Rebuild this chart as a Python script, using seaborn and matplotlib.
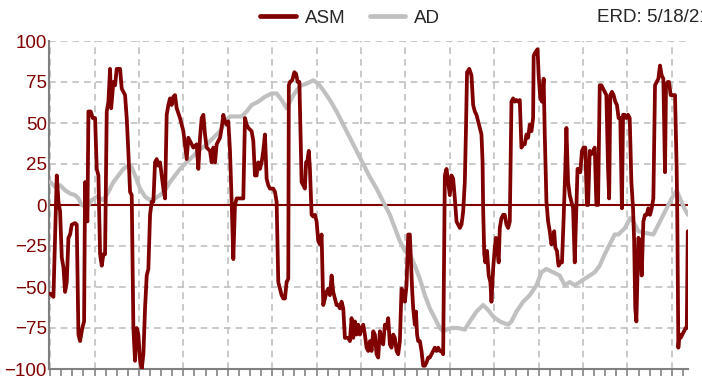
import numpy as np
import pandas as pd
import matplotlib
matplotlib.use("Agg")
import matplotlib.pyplot as plt
import seaborn as sns
from matplotlib.lines import Line2D
from matplotlib.ticker import MultipleLocator, NullFormatter

# trading-day index (ticks every 10, grid every 40) and readings
asm_t = [0, 3, 6, 7.5, 9, 10.5, 12, 13.5, 15, 16.5, 18, 19.5, 22.5, 24, 25.5, 27, 29, 30.6,
         31.5, 32, 33.6, 34.5, 36.6, 38.4, 40.5, 42, 43.5, 45, 46.5, 48, 49.5, 51, 52.5, 54,
         55, 57, 58.5, 60, 63, 64.5, 67.5, 69, 70.5, 72, 73.5, 75, 76.5, 78, 79.5, 81, 82.5,
         84, 85.5, 87, 88.5, 90, 91.5, 93, 94.5, 96, 97.5, 99, 100.5, 102, 103.5, 105, 106.5,
         108, 109.5, 111, 112.5, 114, 117, 120, 123, 124.5, 126, 129, 132, 133.5, 135, 136.5,
         138, 139.5, 141, 144, 145.5, 147, 148.5, 150, 153, 154.5, 156, 157.5, 159, 160.5,
         162, 163.5, 165, 166.5, 168, 174, 175.5, 177, 178.5, 181.5, 183, 184.5, 186, 187.5,
         189, 190.5, 192, 193.5, 195, 196.5, 198, 201, 202.5, 204, 205.5, 207, 208.5, 210,
         211.5, 213, 214.5, 215, 216, 218, 220, 221.5, 223, 224.5, 226.5, 228, 229.5, 230.5,
         231.5, 233, 234, 235.5, 237, 238.5, 240, 241.5, 243, 244.5, 246, 247.5, 249, 250.5,
         252, 253.5, 255, 256.5, 258, 259.5, 261, 262.5, 264, 265.5, 267, 268.5, 270, 271.5,
         273, 274.5, 276, 277.5, 279, 280.5, 282, 283.5, 285, 286.5, 288, 289.5, 291, 292.5,
         294, 295.5, 297, 298.5, 300, 301.5, 303, 304.5, 306, 307.5, 309, 310.5, 312, 313.5,
         315, 316.5, 318, 319.5, 321, 322.5, 324, 325, 326, 327, 328.5, 329.5, 330.5, 331.5,
         333, 334.5, 336, 337.5, 339, 340.5, 342, 343.5, 345, 346.5, 348, 349.5, 351, 352.5,
         354, 355.5, 357, 358.5, 360, 361.5, 363, 364.5, 366, 367.5, 369, 370.5, 372, 373.5,
         374.5, 375.5, 377.5, 379.5, 381, 382.5, 384, 385.5, 387, 388.5, 389.5, 390, 391, 392,
         393.5, 395, 396.5, 397.5, 399, 400.5, 401.5, 402.5, 404, 405, 406.5, 408, 409.5, 411,
         412.5, 414, 415.5, 417, 418.5, 420, 421.5, 423, 424.5, 426, 427.5, 429, 430.5, 432,
         433.5, 435, 435.5, 437, 439, 440, 441.5, 443, 444.5, 445.5, 447, 448.5, 450, 451.5,
         453, 454, 455, 456.5, 457.5, 458, 459.5, 461, 462.5, 464, 465, 466.5, 468, 469.5, 471,
         472.5, 474, 475, 476, 477.5, 479, 480.5, 482, 483.5, 484.5, 486, 487.5, 489, 490.5,
         492, 493.5, 495, 496.5, 498, 499.5, 501, 502.5, 503.5, 504.5, 506, 507.5, 509, 510.5,
         512, 513.5, 515, 516, 517.5, 519, 520.5, 522, 523.5, 525, 526, 527, 528, 529.8, 531.3,
         532.8, 534.3, 535.8, 537.3, 538.8, 540.3, 541.8, 543.3, 544.8, 546.3, 547.8, 549.3,
         550.8, 552.3, 553.8, 554.7, 556.2, 557.4, 558.9, 562.8, 564.3, 564.9, 565.8, 566.7,
         567.9, 569.4, 570.9, 572.4, 573.4, 574.3]
asm_v = [-54, -56, 18, 2, -4, -32, -38, -53, -47, -20, -18, -12, -11, -12, -79, -83, -75, -71,
         14, -4, -10, 57, 57, 53, 53, 22, 18, -30, -37, -30, -30, 57, 63, 83,
         59, 75, 73, 83, 83, 71, 67, 53, 32, 8, 6, -75, -95, -75, -79, -95, -100,
         -91, -63, -43, -39, -6, 2, 2, 26, 28, 24, 26, 18, 10, 4, 55, 61,
         65, 61, 66, 67, 59, 53, 45, 28, 41, 39, 35, 37, 22, 41, 53,
         55, 43, 35, 33, 26, 35, 26, 37, 41, 47, 55, 51, 49, 51,
         33, 2, -33, 0, 4, 4, 53, 49, 47, 45, 39, 18, 18, 26,
         22, 26, 33, 43, 16, 12, 10, 10, 8, 2, -47, -51, -55, -57,
         -57, -47, -45, 73, 75, 76, 81, 80, 75, 75, 14, 12, 10, 26,
         26, 33, 22, -6, -7, -6, -10, -22, -24, -18, -61, -57, -53, -51,
         -55, -43, -53, -57, -61, -61, -63, -59, -63, -81, -81, -81, -83, -69,
         -81, -71, -79, -73, -79, -75, -73, -79, -87, -89, -83, -89, -77, -79,
         -91, -93, -77, -83, -85, -73, -75, -69, -85, -87, -79, -81, -89, -91,
         -83, -51, -53, -59, -49, -18, -18, -35, -51, -63, -73, -65, -79, -83,
         -83, -89, -98, -98, -96, -93, -93, -91, -89, -87, -89, -87, -89, -89,
         -91, 18, 22, 14, 6, 18, 16, 4, -10, -12, -14, -12, -4, 14,
         45, 81, 83, 79, 61, 57, 55, 51, 47, 43, 26, -2, -30, -35,
         -28, -43, -47, -59, -39, -26, -20, -26, -35, -14, -8, -6, -6, -12,
         -14, -10, 63, 65, 63, 64, 63, 64, 35, 37, 37, 43, 41, 49,
         45, 53, 91, 93, 95, 79, 65, 63, 77, 43, 2, -10, -16, -24,
         -20, -16, -26, -28, -35, -37, -35, -35, -8, 22, 47, 14, 6, 2, -2,
         -35, -2, 22, 22, 20, 33, 35, 35, 0, 0, 33, 31, 33, 35,
         0, 0, 73, 73, 71, 69, 67, 22, 4, 67, 69, 67, 63, 61,
         53, 53, -2, 55, 55, 53, 55, 53, 14, -2, -22, -63, -71, -20, -22,
         -43, -10, -6, -6, -2, -6, -2, 4, 73, 75, 77, 85,
         79, 77, 20, 73, 75, 75, 67, 67, 22, -10, -87, -79,
         -81, -79, -77, -75, -75, -16]

ad_t = [0, 4.5, 9, 13.5, 18, 22.5, 25.5, 28.5, 31.5, 34.5, 37.5, 42, 45, 48, 52.5, 57, 61.5,
        66, 70.5, 73.5, 76.5, 81, 85.5, 90, 94.5, 99, 103.5, 108, 112.5, 117, 121.5, 126,
        130.5, 135, 139.5, 144, 148.5, 153, 157.5, 162, 166.5, 172.5, 177, 181.5, 187.5,
        193.5, 199.5, 204, 208.5, 213, 217.5, 222, 226.5, 231, 237, 241.5, 246, 252, 258,
        264, 270, 276, 282, 288, 294, 300, 306, 310.5, 315, 319.5, 324, 328.5, 333, 337.5,
        342, 346.5, 351, 354, 357, 361.5, 367.5, 373.5, 378, 384, 390, 394.5, 399, 405,
        412.5, 415.5, 420, 426, 432, 438, 442.5, 447, 453, 459, 463.5, 468, 472.5, 477,
        481.5, 486, 490.5, 495, 499.5, 504, 508.5, 511.8, 517.8, 522.3, 525.3, 529.8, 535.8,
        543.3, 547.8, 553.8, 559.8, 564.3, 567.3, 571.2, 574.5]
ad_v = [14, 11, 12, 9, 7, 6, 4, 0, -1, 0, 3, 5, 4, 3, 8, 14, 18,
        22, 24, 23, 18, 10, 5, 3, 4, 6, 9, 14, 18, 22, 25, 28,
        31, 34, 36, 39, 42, 45, 51, 54, 54, 54, 57, 61, 63,
        66, 68, 68, 64, 59, 65, 70, 73, 74, 76, 74, 70, 64, 57,
        49, 41, 33, 25, 17, 10, 2, -6, -14, -22, -28, -30, -37, -45, -55,
        -63, -69, -75, -77, -76, -75, -75, -76, -71, -65, -61, -64, -68, -71,
        -73, -71, -65, -59, -55, -49, -41, -39, -41, -43, -49, -47, -49, -47,
        -45, -43, -41, -37, -30, -24, -18, -18, -14, -8, -10, -16, -17,
        -18, -12, -4, 4, 9, 4, -2, -6]

y_ticks = [-100, -75, -50, -25, 0, 25, 50, 75, 100]
series_names = ['ASM', 'AD']
erd_label = 'ERD: 5/18/21'

maroon = '#800000'
gray = '#c0c0c0'

sns.set_style('white')
plt.rcParams['font.family'] = ['Liberation Sans', 'DejaVu Sans']

fig = plt.figure(figsize=(7.02, 3.82), dpi=100)
ax = fig.add_axes([49/702, 1 - 369/382, 639/702, 328/382])

sns.lineplot(x=ad_t, y=ad_v, ax=ax, color=gray, linewidth=3.0, estimator=None, sort=False, zorder=3)
sns.lineplot(x=asm_t, y=asm_v, ax=ax, color=maroon, linewidth=2.7, estimator=None, sort=False, zorder=4)
ax.axhline(0, color=maroon, linewidth=1.5, zorder=2)

ax.set_xlim(-1, 574.5)
ax.set_ylim(-100, 100)
ax.set_yticks(y_ticks)
ax.xaxis.set_major_locator(MultipleLocator(40))
ax.xaxis.set_minor_locator(MultipleLocator(10))
ax.xaxis.set_major_formatter(NullFormatter())
ax.tick_params(axis='x', which='both', direction='out', length=5, width=1.2, color='#808080', bottom=True)
ax.tick_params(axis='y', length=0, pad=1.5, labelsize=13.5, labelcolor=maroon)

ax.grid(True, which='major', color=gray, linestyle=(0, (4, 3)), linewidth=1.2, zorder=0)
ax.set_axisbelow(True)

for s in ['top', 'right']:
    ax.spines[s].set_visible(False)
for s in ['left', 'bottom']:
    ax.spines[s].set_color('#808080')
    ax.spines[s].set_linewidth(1.5)

handles = [Line2D([0], [0], color=maroon, lw=3.4), Line2D([0], [0], color=gray, lw=3.4)]
fig.legend(handles, series_names, loc='center', bbox_to_anchor=(350/702, 1 - 18/382), ncol=2,
           frameon=False, fontsize=13.5, handlelength=1.9, handletextpad=0.45, columnspacing=1.3)
fig.text(597/702, 1 - 18/382, erd_label, fontsize=13.5, va='center', ha='left')

fig.savefig('out.png', dpi=100)
